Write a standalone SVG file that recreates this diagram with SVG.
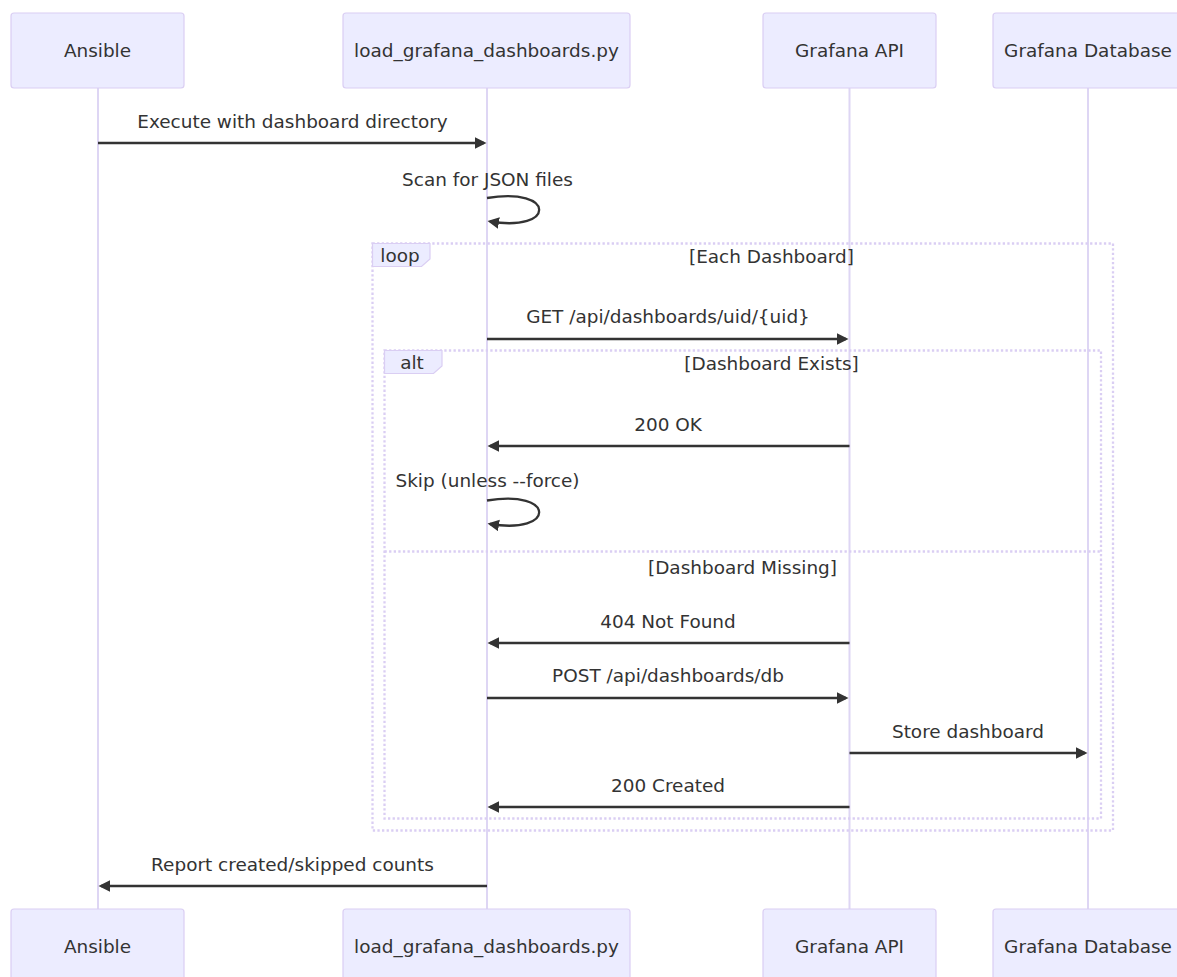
<svg xmlns="http://www.w3.org/2000/svg" width="1177" height="977" viewBox="0 0 1177 977">
<style>
text{font-family:"DejaVu Sans",sans-serif;font-size:18.45px;fill:#333;}
.actor{fill:#ECECFF;stroke:#DACEF3;stroke-width:1.2;}
.actor-text{text-anchor:middle;dominant-baseline:central;}
.life{stroke:#DED6F4;stroke-width:2;}
.msg{stroke:#333;stroke-width:2.3;fill:none;marker-end:url(#arrow);}
.mtext{text-anchor:middle;dominant-baseline:central;}
.frame{stroke:#DACEF3;stroke-width:2.3;stroke-dasharray:2.3 2.3;fill:none;}
.lbl{fill:#ECECFF;stroke:#DACEF3;stroke-width:1.2;}
.ftext{text-anchor:middle;dominant-baseline:central;}
</style>
<defs>
<marker id="arrow" markerUnits="userSpaceOnUse" markerWidth="14" markerHeight="14" refX="9" refY="5.75" orient="auto">
<path d="M0,0 L11.5,5.75 L0,11.5 z" fill="#333"/>
</marker>
</defs>
<rect width="1177" height="977" fill="#fff"/>
<g id="lifelines">
<line class="life" x1="98" y1="88" x2="98" y2="909"/>
<line class="life" x1="487" y1="88" x2="487" y2="909"/>
<line class="life" x1="849.5" y1="88" x2="849.5" y2="909"/>
<line class="life" x1="1088" y1="88" x2="1088" y2="909"/>
</g>
<g id="loop-frame">
<rect class="frame" x="372.5" y="243.5" width="740.5" height="587"/>
<polygon class="lbl" points="372.5,243.5 430,243.5 430,259 421.5,266.5 372.5,266.5"/>
<text class="ftext" x="400" y="255">loop</text>
<text class="ftext" x="771.5" y="256">[Each Dashboard]</text>
</g>
<g id="alt-frame">
<rect class="frame" x="384.5" y="350.5" width="716.5" height="468"/>
<polygon class="lbl" points="384.5,350.5 442,350.5 442,366 433.5,373.5 384.5,373.5"/>
<text class="ftext" x="412" y="362">alt</text>
<text class="ftext" x="771.5" y="363">[Dashboard Exists]</text>
<line class="frame" x1="384.5" y1="551.5" x2="1101" y2="551.5"/>
<text class="ftext" x="742.5" y="567">[Dashboard Missing]</text>
</g>
<g id="connectors">
<line class="msg" x1="98" y1="143" x2="484" y2="143"/>
<text class="mtext" x="292.5" y="121">Execute with dashboard directory</text>
<path class="msg" d="M487,198 C556,186.5 556,232.5 490,221.5"/>
<text class="mtext" x="487.5" y="179">Scan for JSON files</text>
<line class="msg" x1="487" y1="339" x2="846" y2="339"/>
<text class="mtext" x="668" y="316">GET /api/dashboards/uid/{uid}</text>
<line class="msg" x1="849.5" y1="446" x2="490" y2="446"/>
<text class="mtext" x="668" y="424">200 OK</text>
<path class="msg" d="M487,500.5 C556,489 556,535 490,524"/>
<text class="mtext" x="487.5" y="480">Skip (unless --force)</text>
<line class="msg" x1="849.5" y1="643" x2="490" y2="643"/>
<text class="mtext" x="668" y="621">404 Not Found</text>
<line class="msg" x1="487" y1="698" x2="846" y2="698"/>
<text class="mtext" x="668" y="675">POST /api/dashboards/db</text>
<line class="msg" x1="849.5" y1="753" x2="1085" y2="753"/>
<text class="mtext" x="968" y="731">Store dashboard</text>
<line class="msg" x1="849.5" y1="807" x2="490" y2="807"/>
<text class="mtext" x="668" y="785">200 Created</text>
<line class="msg" x1="487" y1="886" x2="101" y2="886"/>
<text class="mtext" x="292.5" y="864">Report created/skipped counts</text>
</g>
<g id="actor-ansible-top"><rect class="actor" x="11" y="13" width="173" height="75" rx="3"/><text class="actor-text" x="97.5" y="50.5">Ansible</text></g>
<g id="actor-loader-top"><rect class="actor" x="343" y="13" width="287" height="75" rx="3"/><text class="actor-text" x="486.5" y="50.5">load_grafana_dashboards.py</text></g>
<g id="actor-api-top"><rect class="actor" x="763" y="13" width="173" height="75" rx="3"/><text class="actor-text" x="849.5" y="50.5">Grafana API</text></g>
<g id="actor-db-top"><rect class="actor" x="993" y="13" width="190" height="75" rx="3"/><text class="actor-text" x="1088" y="50.5">Grafana Database</text></g>
<g id="actor-ansible-bottom"><rect class="actor" x="11" y="909" width="173" height="75" rx="3"/><text class="actor-text" x="97.5" y="946.5">Ansible</text></g>
<g id="actor-loader-bottom"><rect class="actor" x="343" y="909" width="287" height="75" rx="3"/><text class="actor-text" x="486.5" y="946.5">load_grafana_dashboards.py</text></g>
<g id="actor-api-bottom"><rect class="actor" x="763" y="909" width="173" height="75" rx="3"/><text class="actor-text" x="849.5" y="946.5">Grafana API</text></g>
<g id="actor-db-bottom"><rect class="actor" x="993" y="909" width="190" height="75" rx="3"/><text class="actor-text" x="1088" y="946.5">Grafana Database</text></g>
</svg>
